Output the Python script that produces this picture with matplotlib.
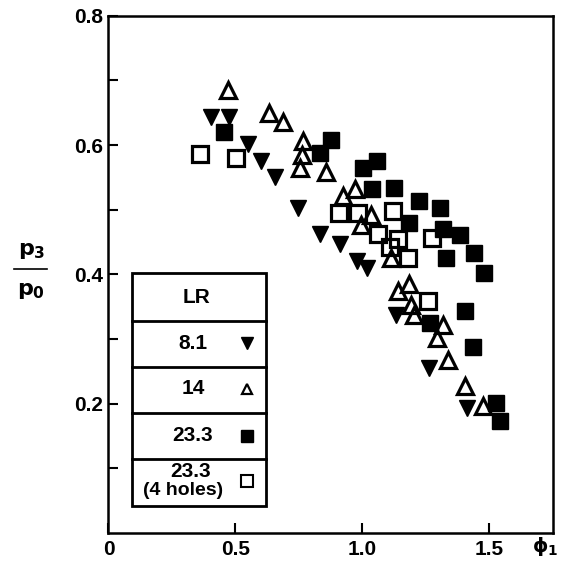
import matplotlib
matplotlib.use("Agg")
import matplotlib.pyplot as plt
from matplotlib.patches import Rectangle
from matplotlib.lines import Line2D

plt.rcParams['font.family'] = ['Liberation Sans', 'DejaVu Sans']
plt.rcParams['font.weight'] = 'bold'
plt.rcParams['mathtext.fontset'] = 'custom'
plt.rcParams['mathtext.rm'] = 'DejaVu Sans:bold'
plt.rcParams['mathtext.it'] = 'DejaVu Sans:bold'
plt.rcParams['mathtext.bf'] = 'DejaVu Sans:bold'

# LR = 8.1 (filled down triangles)
phi_81 = [0.404, 0.477, 0.551, 0.600, 0.658, 0.746, 0.834, 0.913, 0.979, 1.021,
          1.134, 1.262, 1.414]
p_81 = [0.644, 0.644, 0.601, 0.575, 0.550, 0.503, 0.463, 0.447, 0.420, 0.410,
        0.337, 0.255, 0.194]

# LR = 14 (open up triangles)
phi_14 = [0.473, 0.633, 0.687, 0.766, 0.762, 0.755, 0.857, 0.926, 0.971, 1.034,
          0.994, 1.114, 1.143, 1.184, 1.194, 1.206, 1.317, 1.295, 1.340, 1.406,
          1.477]
p_14 = [0.685, 0.650, 0.636, 0.606, 0.584, 0.564, 0.558, 0.521, 0.532, 0.492,
        0.477, 0.426, 0.374, 0.385, 0.353, 0.337, 0.322, 0.301, 0.268, 0.228,
        0.197]

# LR = 23.3 (filled squares)
phi_233 = [0.457, 0.878, 0.832, 1.058, 1.005, 1.038, 1.127, 1.226, 1.308, 1.185,
           1.318, 1.387, 1.330, 1.439, 1.481, 1.404, 1.268, 1.436, 1.527, 1.544]
p_233 = [0.620, 0.607, 0.588, 0.576, 0.565, 0.532, 0.534, 0.514, 0.502, 0.479,
         0.470, 0.461, 0.425, 0.433, 0.402, 0.344, 0.325, 0.288, 0.201, 0.173]

# LR = 23.3, 4 holes (open squares)
phi_233h = [0.361, 0.503, 0.909, 0.983, 1.121, 1.064, 1.141, 1.108, 1.180, 1.277,
            1.260]
p_233h = [0.586, 0.580, 0.495, 0.495, 0.498, 0.463, 0.455, 0.443, 0.425, 0.456,
          0.358]

legend_rows = ['8.1', '14', '23.3', '23.3\n(4 holes)']

fig = plt.figure(figsize=(5.68, 5.61), dpi=100)
ax = fig.add_axes([0.191, 0.050, 0.782, 0.922])

ax.plot(phi_81, p_81, 'v', color='black', ms=12, ls='none')
ax.plot(phi_14, p_14, '^', mfc='none', mec='black', mew=2.3, ms=11.5, ls='none')
ax.plot(phi_233, p_233, 's', color='black', ms=12, ls='none')
ax.plot(phi_233h, p_233h, 's', mfc='none', mec='black', mew=2.3, ms=11.5, ls='none')

ax.set_xlim(0, 1.751)
ax.set_ylim(0, 0.8)
for s in ax.spines.values():
    s.set_linewidth(1.8)

ax.set_xticks([0, 0.5, 1.0, 1.5])
ax.set_xticklabels(['0', '0.5', '1.0', '1.5'])
yt = [0.1, 0.2, 0.3, 0.4, 0.5, 0.6, 0.7, 0.8]
ax.set_yticks(yt)
ax.set_yticklabels(['', '0.2', '', '0.4', '', '0.6', '', '0.8'])
ax.tick_params(direction='in', length=7, width=1.5, labelsize=15, top=False, right=False)
ax.tick_params(axis='x', pad=5)
ax.tick_params(axis='y', pad=4)
for lab in ax.get_xticklabels() + ax.get_yticklabels():
    lab.set_fontweight('bold')

ax.text(0.982, -0.027, r'$\phi_1$', transform=ax.transAxes, ha='center', va='center', fontsize=14)

# y label as a fraction
fig.text(0.055, 0.553, r'$p_3$', ha='center', va='center', fontsize=16)
fig.add_artist(Line2D([0.024, 0.083], [0.520, 0.520], color='black', lw=1.2,
                      transform=fig.transFigure))
fig.text(0.055, 0.483, r'$p_0$', ha='center', va='center', fontsize=16)

# legend table
tr = ax.transAxes
bx0, bx1 = 0.053, 0.355
edges = [0.503, 0.410, 0.321, 0.232, 0.143, 0.052]
ax.add_patch(Rectangle((bx0, edges[-1]), bx1 - bx0, edges[0] - edges[-1], fill=False,
                       lw=2, ec='black', transform=tr, clip_on=False, zorder=5))
for e in edges[1:-1]:
    ax.add_artist(Line2D([bx0, bx1], [e, e], color='black', lw=2, transform=tr,
                         clip_on=False, zorder=5))
ax.text(0.199, 0.456, 'LR', transform=tr, ha='center', va='center', fontsize=15)
row_y = [0.367, 0.279, 0.188, 0.100]
mk = [dict(marker='v', color='black', ms=8.5),
      dict(marker='^', mfc='none', mec='black', mew=1.6, ms=7.5),
      dict(marker='s', color='black', ms=8),
      dict(marker='s', mfc='none', mec='black', mew=1.5, ms=8)]
for lab, y, m in zip(legend_rows, row_y, mk):
    if '\n' in lab:
        a, b = lab.split('\n')
        ax.text(0.185, y + 0.019, a, transform=tr, ha='center', va='center', fontsize=15)
        ax.text(0.168, y - 0.017, b, transform=tr, ha='center', va='center', fontsize=14)
    else:
        ax.text(0.190, y, lab, transform=tr, ha='center', va='center', fontsize=15)
    ax.plot([0.312], [y], transform=tr, ls='none', clip_on=False, zorder=6, **m)

fig.savefig('out.png', dpi=100)
